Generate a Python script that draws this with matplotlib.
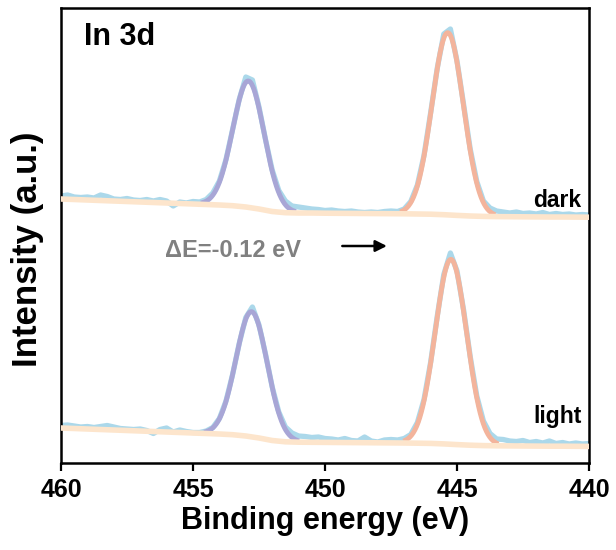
import numpy as np
import matplotlib
matplotlib.use("Agg")
import matplotlib.pyplot as plt

plt.rcParams['font.family'] = ['Liberation Sans', 'DejaVu Sans']
plt.rcParams['font.weight'] = 'bold'

# ---- data (a.u., values) ----
energy_raw = np.arange(460.0, 439.99, -0.25)
dark_raw = [267, 268, 266, 265.5, 266, 265, 268, 266.5, 264, 263.5, 264.5, 263, 262.5, 263.5, 262, 263.5,
            262, 257, 261, 260, 261.5, 261, 263.5, 270, 282, 303.5, 333.5, 363.5, 386, 383, 356, 323,
            293, 272.5, 262, 257, 256, 255, 254, 253.5, 252.5, 253, 252, 251.5, 252, 251, 250.5, 251,
            250.5, 251.5, 252, 251.5, 254, 261.5, 278, 307.5, 350, 394.5, 429, 434, 402, 358.5, 314,
            281.5, 262, 255, 252, 251, 250, 251, 249.5, 250, 249, 250.5, 248.5, 249.5, 248.5, 249, 248,
            248.5, 248]
light_raw = [37.5, 38, 37, 36, 36.5, 35.5, 36.5, 37.5, 36, 34.5, 34, 33.5, 34, 32.5, 29.5, 33.5,
             35, 31, 33, 31.5, 30.5, 30.5, 32, 35.5, 44.5, 62, 88.5, 119.5, 145.5, 156, 138, 108.5,
             76, 51, 36, 30, 27, 26.5, 25.5, 26, 24.5, 24, 23, 24.5, 22.5, 22, 26, 22,
             21, 23, 23.5, 23, 24.5, 28.5, 40.5, 63.5, 100.5, 146.5, 188.5, 210, 192, 153, 106.5,
             67, 42, 29.5, 24, 23.5, 22, 21.5, 22.5, 20.5, 21.5, 20, 22, 19.5, 20.5, 19, 20,
             19, 19.5]

energy_bkg = np.arange(460.0, 439.99, -0.5)
dark_bkg = [264, 263.5, 263, 262.5, 262, 261.5, 261, 260.5, 260, 259.5, 259, 258.5, 258, 257.3, 256,
            254, 251.5, 250.3, 250, 250, 249.8, 249.7, 249.6, 249.5, 249.4, 249.3, 249.2, 249, 248.8,
            248.3, 247.6, 247, 246.6, 246.4, 246.3, 246.2, 246.1, 246, 246, 245.9, 245.8]
light_bkg = [35, 34.5, 34, 33.5, 33, 32.5, 32, 31.5, 31, 30.5, 30, 29.5, 29, 28.3, 27, 25, 22.5,
             21.2, 20.8, 20.7, 20.6, 20.5, 20.4, 20.3, 20.2, 20.1, 20, 19.8, 19.6, 19.1, 18.4, 17.8,
             17.4, 17.2, 17.1, 17, 16.9, 16.8, 16.8, 16.7, 16.6]

# fitted components: In 3d3/2 (purple), In 3d5/2 (orange)
dark_centers = [452.90, 445.35]
dark_heights = [126.4, 182.2]
light_centers = [452.78, 445.23]
light_heights = [125.2, 184.9]
fwhm = [1.40, 1.40]

c_raw = '#abd8ea'
c_purple = '#a8a6d6'
c_orange = '#f3b49c'
c_bkg = '#fde5cc'

fig = plt.figure(figsize=(6.16, 5.5), dpi=100)
ax = fig.add_axes([61/616, 87/550, 528/616, 455/550])

def draw(raw, bkg, centers, heights):
    ax.plot(energy_raw, raw, color=c_raw, lw=3.8, solid_joinstyle='round', zorder=1)
    for c, h, w, col in zip(centers, heights, fwhm, [c_purple, c_orange]):
        e = np.linspace(c + 1.8, c - 1.8, 240)
        b = np.interp(e[::-1], energy_bkg[::-1], bkg[::-1])[::-1]
        g = h * np.exp(-4 * np.log(2) * (e - c) ** 2 / w ** 2)
        ax.plot(e, b + g, color=col, lw=3.5, solid_capstyle='butt', zorder=2)
    ax.plot(energy_bkg, bkg, color=c_bkg, lw=4.0, zorder=3)

draw(dark_raw, np.array(dark_bkg), dark_centers, dark_heights)
draw(light_raw, np.array(light_bkg), light_centers, light_heights)

ax.set_xlim(460, 440)
ax.set_ylim(0, 455)
ax.set_xticks([460, 455, 450, 445, 440])
ax.set_yticks([])
ax.tick_params(axis='x', direction='out', length=6, width=1.6, labelsize=18, pad=5)
for lab in ax.get_xticklabels():
    lab.set_fontweight('bold')
for s in ax.spines.values():
    s.set_linewidth(1.8)

ax.set_xlabel('Binding energy (eV)', fontsize=22, fontweight='bold', labelpad=3)
ax.set_ylabel('Intensity (a.u.)', fontsize=25, fontweight='bold')
ax.yaxis.set_label_coords(-0.032, 0.47)

ax.text(459.13, 418, 'In 3d', fontsize=22, fontweight='bold', ha='left', va='baseline')
ax.text(440.28, 256, 'dark', fontsize=16.5, fontweight='bold', ha='right', va='baseline')
ax.text(440.28, 40, 'light', fontsize=16.5, fontweight='bold', ha='right', va='baseline')
ax.text(456.06, 206, 'ΔE=-0.12 eV', fontsize=17, fontweight='bold', color='#808080',
        ha='left', va='baseline')
ax.annotate('', xy=(447.55, 217), xytext=(449.45, 217),
            arrowprops=dict(arrowstyle='-|>', color='black', lw=1.8, mutation_scale=17))

fig.savefig('out.png', dpi=100)
